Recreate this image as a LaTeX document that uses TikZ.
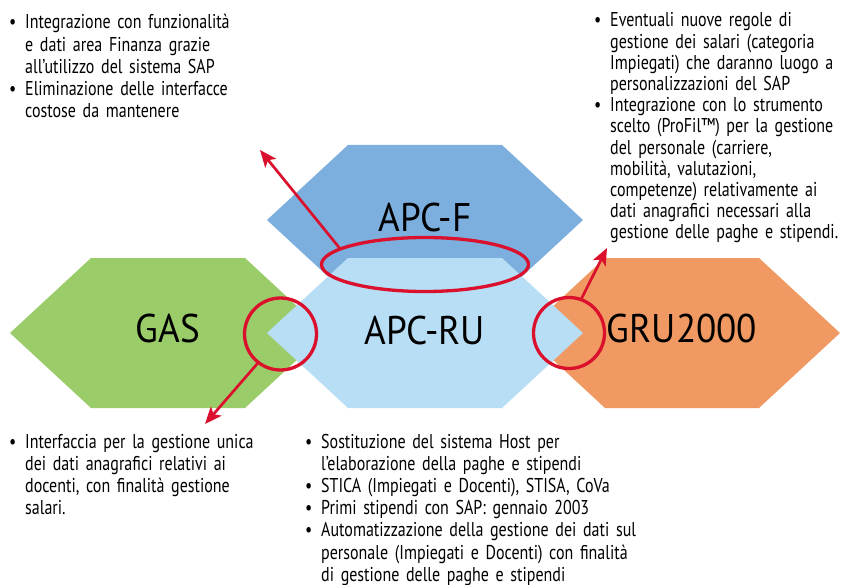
\documentclass[tikz,border=0pt]{standalone}
\usepackage{fontspec}
\setmainfont{PT Sans}[FakeStretch=0.8]
\newfontfamily\hexfont{PT Sans}[FakeStretch=0.93]
\usetikzlibrary{shapes.geometric,arrows.meta}
\definecolor{gasgreen}{RGB}{155,204,106}
\definecolor{apcfblue}{RGB}{124,175,222}
\definecolor{apcrublue}{RGB}{183,222,245}
\definecolor{gruorange}{RGB}{240,153,98}
\definecolor{markred}{RGB}{218,16,44}
\newcommand{\hexagon}[3]{\fill[#1] (#2,#3) ++(-158,0) -- ++(81,-75) -- ++(154,0) -- ++(81,75) -- ++(-81,75) -- ++(-154,0) -- cycle;}
\newcommand{\bul}{\makebox[16pt][l]{\textbullet}}
\newcommand{\ind}{\hspace*{16pt}}
\begin{document}
\begin{tikzpicture}[x=1pt,y=-1pt,
  hexlabel/.style={anchor=base,inner sep=0pt,font=\hexfont\fontsize{40}{44}\selectfont},
  notes/.style={anchor=base west,align=left,inner sep=0pt,text width=380pt,font=\fontsize{20}{22.2}\selectfont},
  ring/.style={draw=markred,line width=3.3pt,inner sep=0pt},
  pointer/.style={draw=markred,line width=2.7pt,-{Stealth[length=17pt,width=14pt,inset=4pt]}}]
  \useasboundingbox (0,0) rectangle (842,585);
  \hexagon{apcfblue}{425}{220}
  \hexagon{gasgreen}{168}{333}
  \hexagon{gruorange}{682}{333}
  \hexagon{apcrublue}{425}{333}
  \node[hexlabel] (apcf) at (425,232) {APC-F};
  \node[hexlabel] (gas) at (168,342) {GAS};
  \node[hexlabel] (apcru) at (425,344) {APC-RU};
  \node[hexlabel] (gru) at (682,342) {GRU2000};
  \node[ring,ellipse,minimum width=207pt,minimum height=54pt] (ftop) at (425,264.5) {};
  \node[ring,circle,minimum size=72pt] (gcirc) at (280.5,334) {};
  \node[ring,circle,minimum size=71pt] (rcirc) at (569,333) {};
  \coordinate (ftip) at (260,150);
  \coordinate (gtip) at (205,424);
  \coordinate (rtip) at (607,248);
  \draw[pointer] (ftop.169) -- (ftip);
  \draw[pointer] (gcirc.232) -- (gtip);
  \draw[pointer] (rcirc.70) -- (rtip);
  \node[notes] (finanza) at (9,29) {\bul Integrazione con funzionalità\\
    \ind e dati area Finanza grazie\\
    \ind all’utilizzo del sistema SAP\\
    \bul Eliminazione delle interfacce\\
    \ind costose da mantenere};
  \node[notes,font=\fontsize{20}{21.2}\selectfont] (profil) at (594,27) {\bul Eventuali nuove regole di\\
    \ind gestione dei salari (categoria\\
    \ind Impiegati) che daranno luogo a\\
    \ind personalizzazioni del SAP\\
    \bul Integrazione con lo strumento\\
    \ind scelto (ProFil™) per la gestione\\
    \ind del personale (carriere,\\
    \ind mobilità, valutazioni,\\
    \ind competenze) relativamente ai\\
    \ind dati anagrafici necessari alla\\
    \ind gestione delle paghe e stipendi.};
  \node[notes] (docenti) at (9,448) {\bul Interfaccia per la gestione unica\\
    \ind dei dati anagrafici relativi ai\\
    \ind docenti, con finalità gestione\\
    \ind salari.};
  \node[notes] (stipendi) at (305,448) {\bul Sostituzione del sistema Host per\\
    \ind l’elaborazione della paghe e stipendi\\
    \bul STICA (Impiegati e Docenti), STISA, CoVa\\
    \bul Primi stipendi con SAP: gennaio 2003\\
    \bul Automatizzazione della gestione dei dati sul\\
    \ind personale (Impiegati e Docenti) con finalità\\
    \ind di gestione delle paghe e stipendi};
\end{tikzpicture}
\end{document}
